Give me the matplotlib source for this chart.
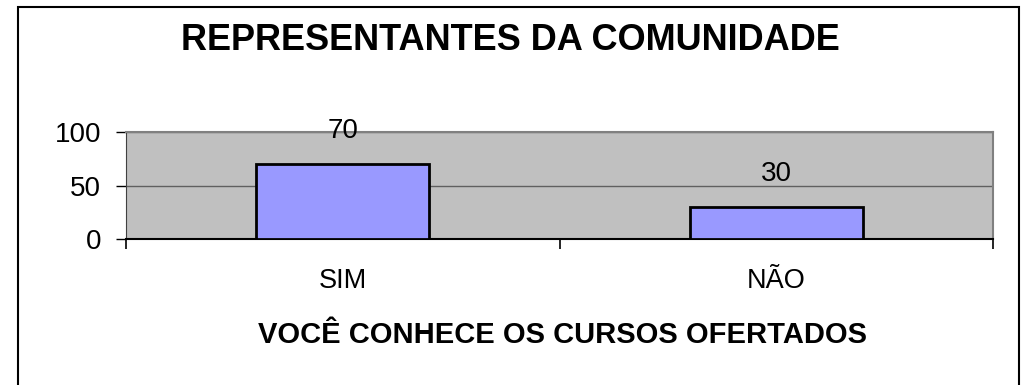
import matplotlib.pyplot as plt
from matplotlib.patches import Rectangle

plt.rcParams['font.family'] = ['Liberation Sans', 'DejaVu Sans']

# Survey answers
categories = ['SIM', 'NÃO']
values = [70, 30]
y_ticks = [0, 50, 100]

title = 'REPRESENTANTES DA COMUNIDADE'
xlabel = 'VOCÊ CONHECE OS CURSOS OFERTADOS'

fig = plt.figure(figsize=(10.28, 3.85), dpi=100)
ax = fig.add_axes([126 / 1028, 146 / 385, 867 / 1028, 107 / 385])

x = range(len(categories))
ax.bar(x, values, width=0.4, color='#9999FF', edgecolor='black', linewidth=2, zorder=3)

for xi, v in zip(x, values):
    ax.annotate(str(v), (xi, v), xytext=(0, 23.5), textcoords='offset points',
                ha='center', va='center', fontsize=20, zorder=4)

ax.set_xlim(-0.5, len(categories) - 0.5)
ax.set_ylim(0, 100)
ax.set_facecolor('#C0C0C0')

ax.set_yticks(y_ticks)
ax.set_yticklabels([str(t) for t in y_ticks], fontsize=20)
ax.tick_params(axis='y', direction='out', length=7, width=1, pad=11)

# category labels sit between boundary ticks
ax.set_xticks(list(x))
ax.set_xticklabels(categories, fontsize=19.5)
ax.tick_params(axis='x', which='major', length=0, pad=21)
ax.set_xticks([i - 0.5 for i in range(len(categories) + 1)], minor=True)
ax.tick_params(axis='x', which='minor', direction='out', length=7, width=1.2)

ax.grid(axis='y', color='#606060', linewidth=1, zorder=1)
for s in ('top', 'right'):
    ax.spines[s].set_color('#808080')
    ax.spines[s].set_linewidth(1.5)
ax.spines['left'].set_color('#404040')
ax.spines['bottom'].set_color('black')
ax.spines['bottom'].set_linewidth(1.5)

ax.set_xlabel(xlabel, fontsize=21, fontweight='bold', va='center')
ax.xaxis.set_label_coords(0.504, (239 - 335) / 107)
fig.text(510 / 1028, 1 - 41 / 385, title, ha='center', va='center',
         fontsize=26, fontweight='bold')

# outer frame of the chart area
fig.add_artist(Rectangle((18 / 1028, -0.05), 1001 / 1028, 0.05 + 1 - 7 / 385,
                         transform=fig.transFigure, fill=False,
                         edgecolor='black', linewidth=1.5))

fig.savefig('out.png', dpi=100)
